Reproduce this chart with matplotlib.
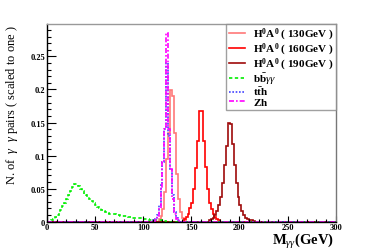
import numpy as np
import matplotlib
matplotlib.use("Agg")
import matplotlib.pyplot as plt
from matplotlib.lines import Line2D

plt.rcParams['font.family'] = ['Liberation Serif', 'DejaVu Serif']
plt.rcParams['mathtext.fontset'] = 'custom'
plt.rcParams['mathtext.rm'] = 'Liberation Serif'
plt.rcParams['mathtext.it'] = 'Liberation Serif:italic'
plt.rcParams['mathtext.bf'] = 'Liberation Serif:bold'

# ---- data: 2 GeV bins from 0 to 300 ----
bin_width = 2
x_range = (0, 300)

h130_first_bin = 116
h130 = [0.004, 0.008, 0.019, 0.045, 0.095, 0.134, 0.199, 0.190, 0.134, 0.072,
        0.034, 0.015, 0.006, 0.002]

h160_first_bin = 142
h160 = [0.004, 0.007, 0.012, 0.020, 0.029, 0.049, 0.081, 0.122, 0.168, 0.168,
        0.122, 0.082, 0.049, 0.029, 0.019, 0.012, 0.007, 0.004, 0.002]

h190_first_bin = 168
h190 = [0.002, 0.004, 0.006, 0.010, 0.016, 0.025, 0.038, 0.058, 0.085, 0.115,
        0.149, 0.148, 0.117, 0.085, 0.058, 0.038, 0.025, 0.016, 0.010, 0.006,
        0.004, 0.003, 0.002, 0.001]

bbgg_first_bin = 4
bbgg = [0.002, 0.004, 0.007, 0.010, 0.014, 0.018, 0.023, 0.028, 0.034, 0.040,
        0.047, 0.053, 0.057, 0.057, 0.054, 0.050, 0.046, 0.042, 0.040, 0.037,
        0.034, 0.031, 0.028, 0.025, 0.022, 0.020, 0.018, 0.016, 0.014, 0.013,
        0.012, 0.012, 0.011, 0.011, 0.010, 0.010, 0.009, 0.009, 0.008, 0.008,
        0.007, 0.007, 0.006, 0.006, 0.006, 0.005, 0.005, 0.005, 0.004, 0.004,
        0.004, 0.003, 0.003, 0.003, 0.003, 0.002, 0.002, 0.002, 0.001, 0.001]

tth_first_bin = 110
tth = [0.002, 0.004, 0.010, 0.025, 0.055, 0.090, 0.140, 0.240, 0.130, 0.080,
       0.040, 0.015, 0.005, 0.002]

zh_first_bin = 112
zh = [0.003, 0.008, 0.020, 0.050, 0.090, 0.140, 0.285, 0.140, 0.080, 0.035,
      0.012, 0.004, 0.001]

labels = [r"$\mathbf{H^0A^0}$ ( 130GeV )",
          r"$\mathbf{H^0A^0}$ ( 160GeV )",
          r"$\mathbf{H^0A^0}$ ( 190GeV )",
          r"$\mathbf{b\bar{b}}\gamma\gamma$",
          r"$\mathbf{t\bar{t}h}$",
          r"$\mathbf{Zh}$"]

y_ticks = [0, 0.05, 0.1, 0.15, 0.2, 0.25]
y_tick_labels = ["0", "0.05", "0.1", "0.15", "0.2", "0.25"]
x_ticks = [0, 50, 100, 150, 200, 250, 300]

edges = np.arange(x_range[0], x_range[1] + bin_width, bin_width)
nbins = len(edges) - 1


def full(first_edge, vals):
    arr = np.zeros(nbins)
    i0 = int((first_edge - x_range[0]) / bin_width)
    arr[i0:i0 + len(vals)] = vals
    return arr


series = [
    (full(h130_first_bin, h130), dict(color='#FF7878', lw=1.2, ls='-')),
    (full(h160_first_bin, h160), dict(color='#FF0000', lw=1.2, ls='-')),
    (full(h190_first_bin, h190), dict(color='#9E0A0A', lw=1.2, ls='-')),
    (full(bbgg_first_bin, bbgg), dict(color='#00EE00', lw=1.2, ls=(0, (2, 1.5)))),
    (full(tth_first_bin, tth), dict(color='#4444FF', lw=1.2, ls=(0, (1, 1)))),
    (full(zh_first_bin, zh), dict(color='#FF00FF', lw=1.2, ls=(0, (3, 1.2, 1, 1.2)))),
]

fig = plt.figure(figsize=(3.74, 2.53), dpi=100)
ax = fig.add_axes([0.1257, 0.1198, 0.7719, 0.7814])

handles = []
for vals, st in series:
    ax.stairs(vals, edges, baseline=0, **st)
    handles.append(Line2D([], [], **st))

ax.set_xlim(*x_range)
ax.set_ylim(0, 0.299)

ax.set_xticks(x_ticks)
ax.set_xticks(np.arange(0, 301, 10), minor=True)
ax.set_yticks(y_ticks)
ax.set_yticklabels(y_tick_labels)
ax.set_yticks(np.arange(0, 0.2991, 0.01), minor=True)

for lab in ax.get_xticklabels() + ax.get_yticklabels():
    lab.set_fontweight('bold')
    lab.set_fontsize(6)

ax.tick_params(axis='y', which='major', direction='in', length=6.2, width=0.8, pad=1.5)
ax.tick_params(axis='y', which='minor', direction='in', length=3.1, width=0.8)
ax.tick_params(axis='x', which='major', direction='in', length=4.2, width=0.8, pad=0.8)
ax.tick_params(axis='x', which='minor', direction='in', length=2.1, width=0.8)

ax.spines['left'].set_color('black')
ax.spines['bottom'].set_color('black')
ax.spines['top'].set_color('#999999')
ax.spines['right'].set_color('#777777')
for s in ax.spines.values():
    s.set_linewidth(1.0)

fig.text(334 / 374, 1 - 245 / 253, r"$\mathbf{M}_{\gamma\gamma}$(GeV)",
         ha='right', va='baseline', fontsize=10.5, fontweight='bold')
fig.text(12 / 374, 1 - 25 / 253, r"N. of  $\gamma$  $\gamma$ pairs ( scaled to one )",
         rotation=90, ha='center', va='top', fontsize=9)

leg = fig.legend(handles, labels, loc='upper right',
                 bbox_to_anchor=(336 / 374, 1 - 25 / 253),
                 bbox_transform=fig.transFigure,
                 prop={'family': 'Liberation Serif', 'weight': 'bold', 'size': 8},
                 frameon=True, fancybox=False, edgecolor='#888888',
                 handlelength=1.5, handletextpad=0.7, labelspacing=-0.1,
                 borderpad=0.2, borderaxespad=0)
leg.get_frame().set_linewidth(1.0)

fig.savefig("out.png", dpi=100)
